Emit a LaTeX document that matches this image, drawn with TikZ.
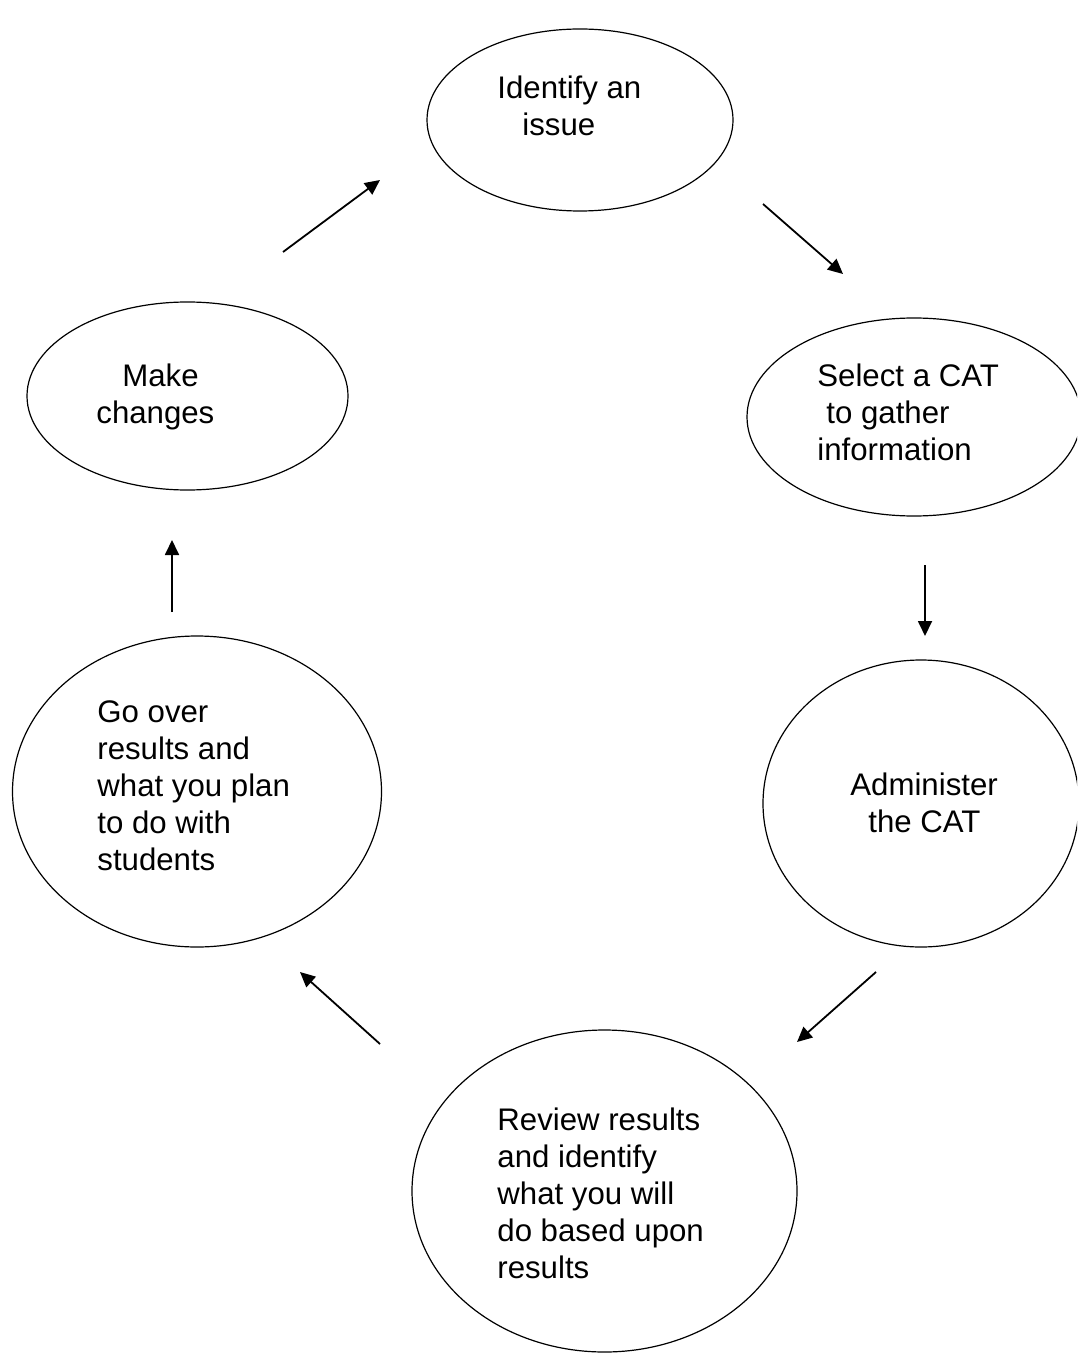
\documentclass[tikz,border=0pt]{standalone}
\usepackage{fontspec}
\setmainfont{Liberation Sans}
\usetikzlibrary{arrows.meta,shapes.geometric}

\begin{document}
\begin{tikzpicture}[
  x=0.5pt,y=-0.5pt,
  stage/.style={draw,ellipse,line width=0.6pt,inner sep=0pt},
  txt/.style={align=left,inner sep=0pt,anchor=base west,font=\fontsize{15.6}{18.5}\selectfont},
  arr/.style={-{Triangle[length=7.5pt,width=7pt]},line width=0.9pt}
]
\clip (0,0) rectangle (1077,1353);
\node[stage,minimum width=153pt,minimum height=91pt] (idf) at (580,120) {};
\node[stage,minimum width=167pt,minimum height=99pt] (sel) at (914,417) {};
\node[stage,minimum width=158pt,minimum height=143.5pt] (adm) at (921,803.5) {};
\node[stage,minimum width=192.5pt,minimum height=161pt] (rev) at (604.5,1191) {};
\node[stage,minimum width=184.5pt,minimum height=155.5pt] (gov) at (197,791.5) {};
\node[stage,minimum width=160.5pt,minimum height=94pt] (mak) at (187.5,396) {};
\node[txt] (idf-t) at (497,136) {Identify an\\\hspace*{12.5pt}issue};
\node[txt] (sel-t) at (817,460) {Select a CAT\\\hspace*{4.5pt}to gather\\information};
\node[txt] (adm-t) at (850,832) {Administer\\\hspace*{9pt}the CAT};
\node[txt] (rev-t) at (497,1278) {Review results\\and identify\\what you will\\do based upon\\results};
\node[txt] (gov-t) at (97,870) {Go over\\results and\\what you plan\\to do with\\students};
\node[txt] (mak-t) at (96,423) {\hspace*{13pt}Make\\changes};
\coordinate (a1) at (283,252); \coordinate (b1) at (380,180);
\coordinate (a2) at (763,204); \coordinate (b2) at (843,274);
\coordinate (a3) at (925,565); \coordinate (b3) at (925,636);
\coordinate (a4) at (876,972); \coordinate (b4) at (797,1042);
\coordinate (a5) at (380,1044); \coordinate (b5) at (300,972);
\coordinate (a6) at (172,612); \coordinate (b6) at (172,540);
\draw[arr] (a1)--(b1);
\draw[arr] (a2)--(b2);
\draw[arr] (a3)--(b3);
\draw[arr] (a4)--(b4);
\draw[arr] (a5)--(b5);
\draw[arr] (a6)--(b6);
\end{tikzpicture}
\end{document}
